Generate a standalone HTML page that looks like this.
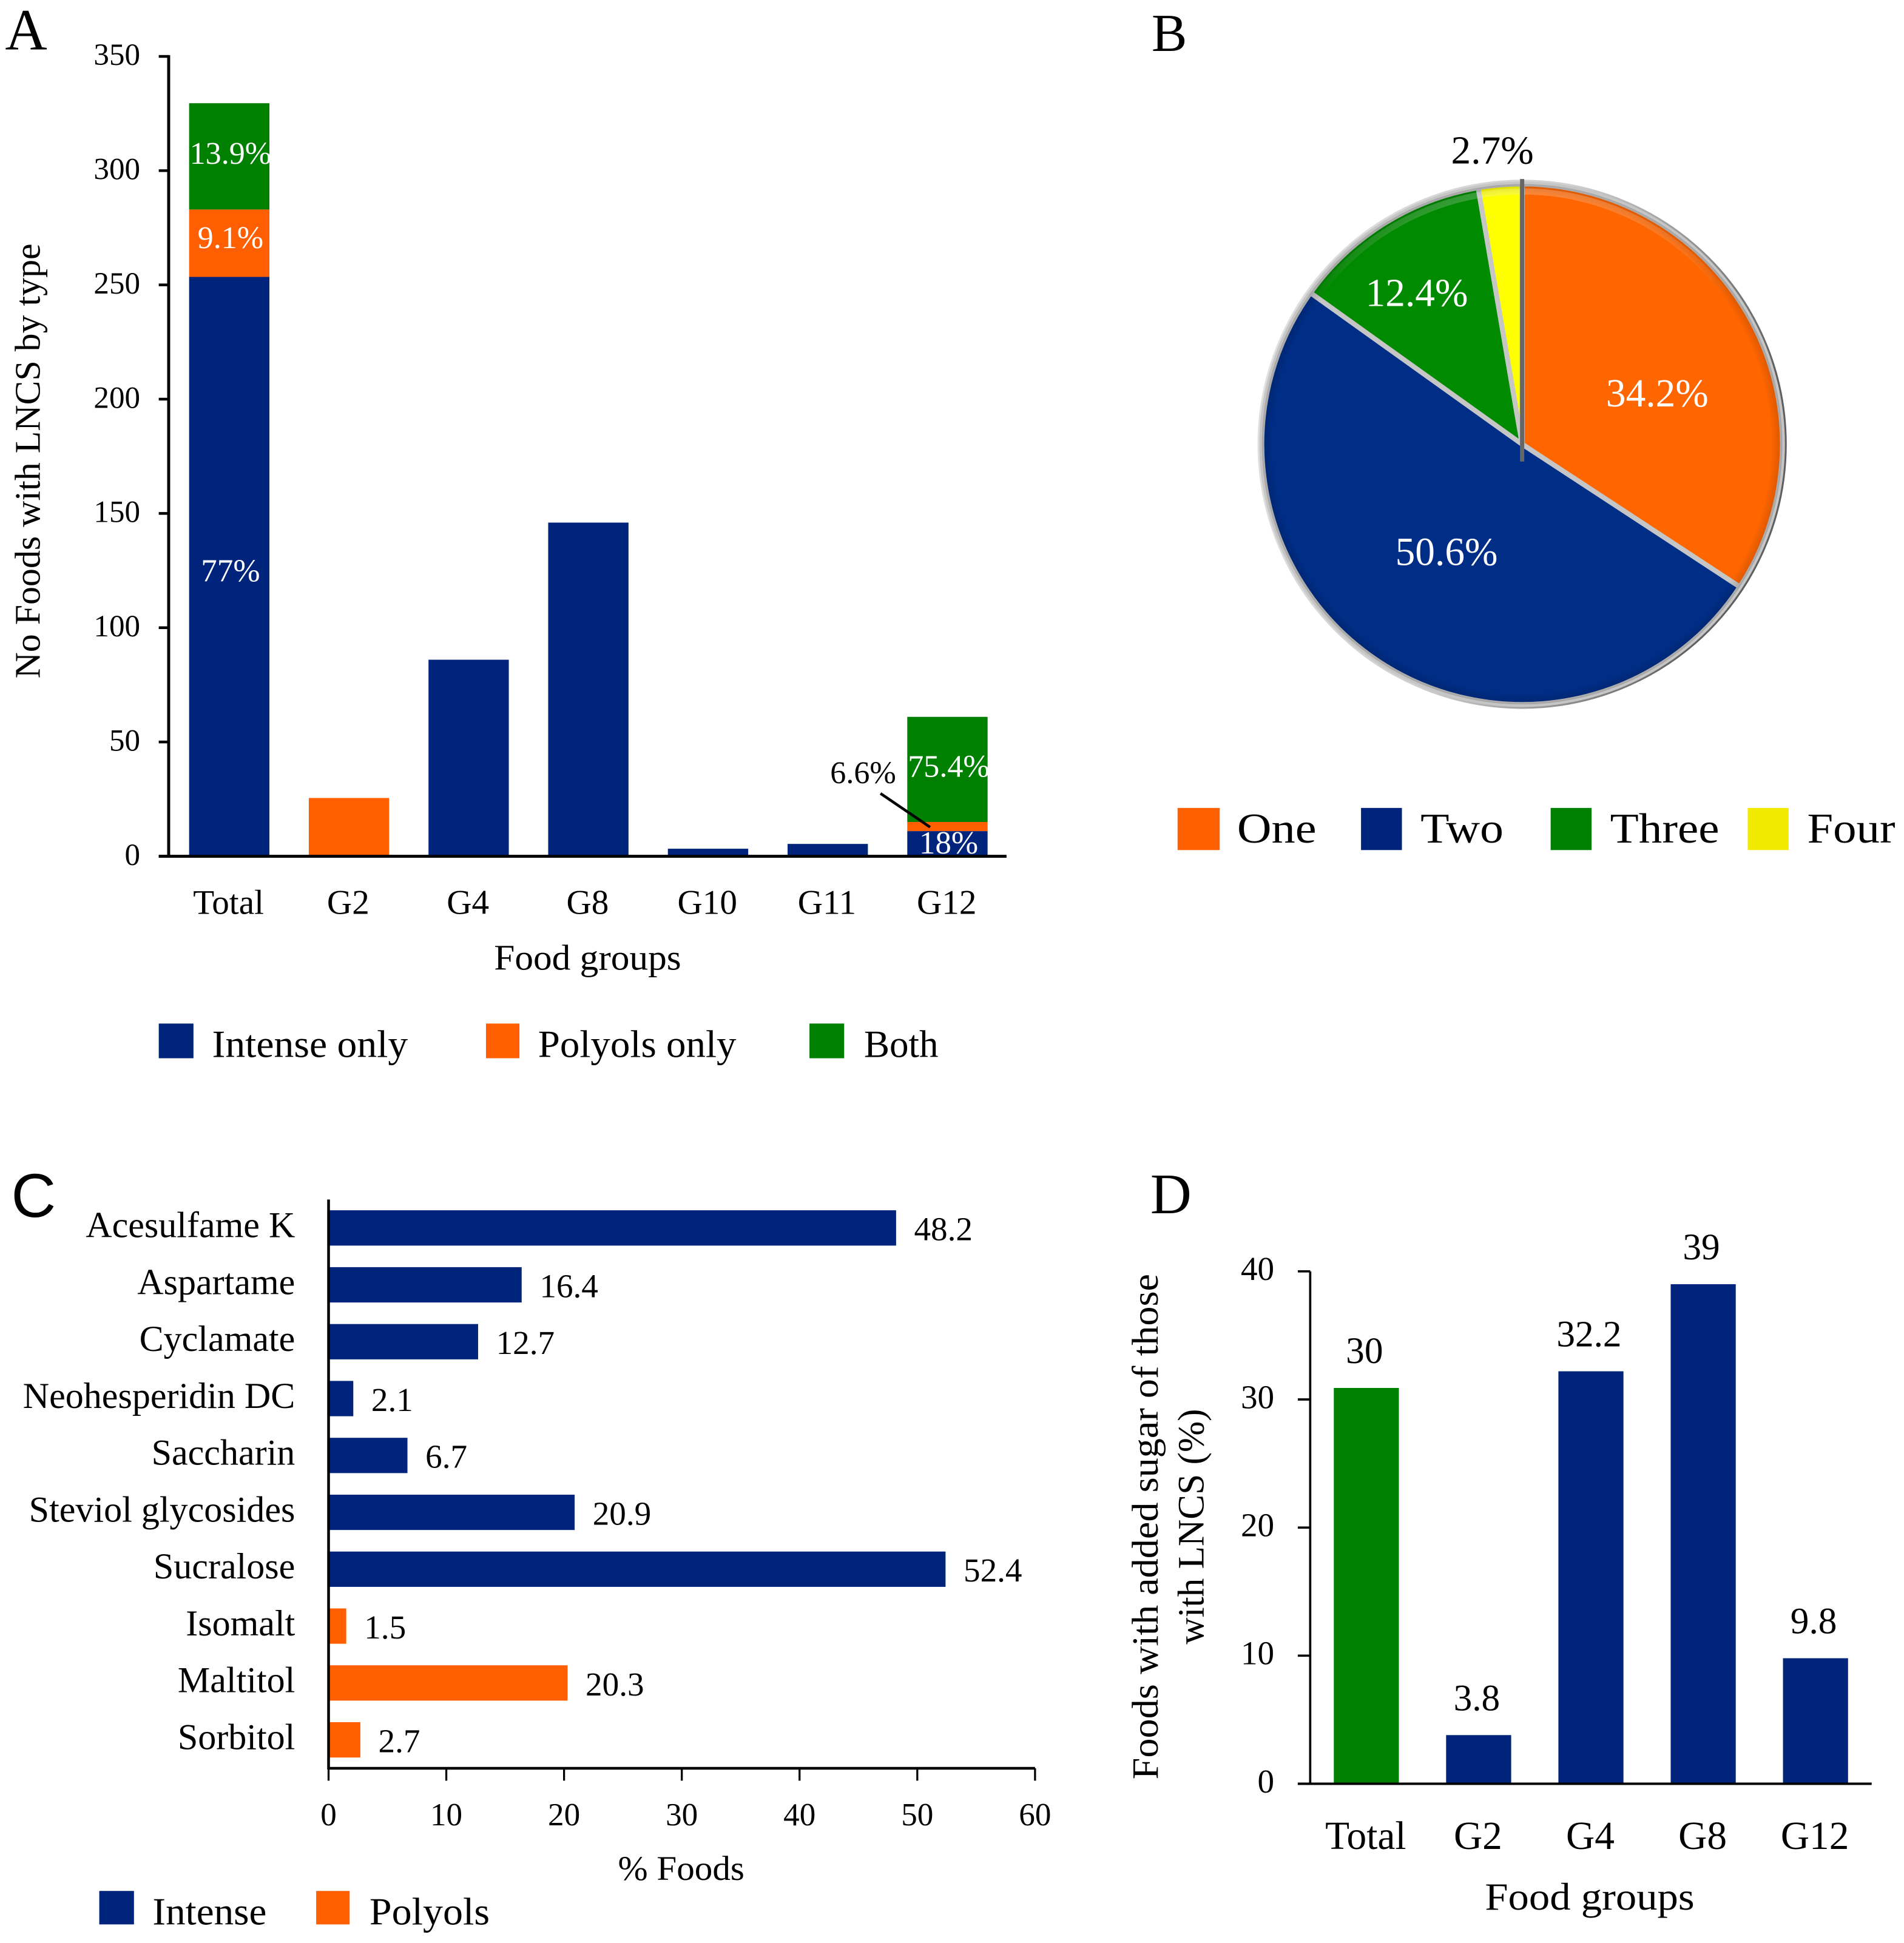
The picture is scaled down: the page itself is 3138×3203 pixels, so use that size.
<!DOCTYPE html>
<html lang="en">
<head>
<meta charset="utf-8">
<title>Low- and no-calorie sweeteners in foods</title>
<style>
html,body{margin:0;padding:0;background:#fff}
svg{display:block;font-family:"Liberation Serif",serif}
</style>
</head>
<body>
<svg id="figure" xmlns="http://www.w3.org/2000/svg" width="3138" height="3203" viewBox="0 0 1536 1568">
  <defs>
    <linearGradient id="rimGrad" x1="0" y1="0" x2="1" y2="0.3">
      <stop offset="0" stop-color="#e4e4e4"/>
      <stop offset="0.55" stop-color="#cfcfcf"/>
      <stop offset="1" stop-color="#5f5f5f"/>
    </linearGradient>
    <radialGradient id="bevelGrad" cx="0.5" cy="0.5" r="0.5">
      <stop offset="0.955" stop-color="#000" stop-opacity="0"/>
      <stop offset="1" stop-color="#000" stop-opacity="0.16"/>
    </radialGradient>
    <linearGradient id="highlightGrad" x1="0" y1="0" x2="0" y2="1">
      <stop offset="0" stop-color="#fff" stop-opacity="0.22"/>
      <stop offset="0.22" stop-color="#fff" stop-opacity="0"/>
    </linearGradient>
  </defs>

  <rect x="0" y="0" width="1536" height="1568" fill="#fff"/>

  <text x="4" y="40" font-size="47">A</text>
  <text x="929" y="41" font-size="43">B</text>
  <text x="9" y="982" font-size="50" font-family="Liberation Sans, sans-serif">C</text>
  <text x="928" y="979" font-size="46">D</text>

  <g id="panelA">
    <text transform="translate(32,372) rotate(-90)" text-anchor="middle" font-size="29" textLength="351" lengthAdjust="spacingAndGlyphs">No Foods with LNCS by type</text>
    <text x="474" y="782.5" text-anchor="middle" font-size="29" textLength="151" lengthAdjust="spacingAndGlyphs">Food groups</text>
    <g>
      <rect x="128" y="826" width="28" height="28" fill="#00247c"/>
      <text x="171" y="853" font-size="31" textLength="158" lengthAdjust="spacingAndGlyphs">Intense only</text>
      <rect x="392" y="826" width="27" height="28" fill="#ff5f00"/>
      <text x="434" y="853" font-size="31" textLength="160" lengthAdjust="spacingAndGlyphs">Polyols only</text>
      <rect x="653" y="826" width="28" height="28" fill="#008000"/>
      <text x="697" y="853" font-size="31" textLength="60" lengthAdjust="spacingAndGlyphs">Both</text>
    </g>
  </g>

  <g id="panelB">
    <g>
      <rect x="950" y="652" width="34" height="34" fill="#ff6000"/>
      <text x="998" y="680" font-size="34" textLength="64" lengthAdjust="spacingAndGlyphs">One</text>
      <rect x="1098" y="652" width="33" height="34" fill="#00247c"/>
      <text x="1146" y="680" font-size="34" textLength="67" lengthAdjust="spacingAndGlyphs">Two</text>
      <rect x="1251" y="652" width="33" height="34" fill="#008000"/>
      <text x="1299" y="680" font-size="34" textLength="88" lengthAdjust="spacingAndGlyphs">Three</text>
      <rect x="1410" y="652" width="33" height="34" fill="#f2e900"/>
      <text x="1458" y="680" font-size="34" textLength="71" lengthAdjust="spacingAndGlyphs">Four</text>
    </g>
  </g>

  <g id="panelC">
    <text x="549.5" y="1517" text-anchor="middle" font-size="28" textLength="102" lengthAdjust="spacingAndGlyphs">% Foods</text>
    <g>
      <rect x="80" y="1526" width="28" height="27" fill="#00247c"/>
      <text x="123" y="1553" font-size="31" textLength="92" lengthAdjust="spacingAndGlyphs">Intense</text>
      <rect x="255" y="1526" width="27" height="27" fill="#ff5f00"/>
      <text x="298" y="1553" font-size="31" textLength="97" lengthAdjust="spacingAndGlyphs">Polyols</text>
    </g>
  </g>

  <g id="panelD">
    <text transform="translate(934,1232) rotate(-90)" text-anchor="middle" font-size="30" textLength="408" lengthAdjust="spacingAndGlyphs">Foods with added sugar of those</text>
    <text transform="translate(971,1232) rotate(-90)" text-anchor="middle" font-size="30" textLength="190" lengthAdjust="spacingAndGlyphs">with LNCS (%)</text>
    <text x="1282.5" y="1541" text-anchor="middle" font-size="31" textLength="169" lengthAdjust="spacingAndGlyphs">Food groups</text>
  </g>
</svg>

<script>
/* Panel A data */
const categoriesA = ['Total', 'G2', 'G4', 'G8', 'G10', 'G11', 'G12'];
const intenseOnlyCounts = [253.5, 0, 86, 146, 3.3, 5.4, 11];
const polyolsOnlyCounts = [29.5, 25.5, 0, 0, 0, 0, 4];
const bothCounts = [46.5, 0, 0, 0, 0, 0, 46];
const intenseOnlyLabels = ['77%', '', '', '', '', '', '18%'];
const polyolsOnlyLabels = ['9.1%', '', '', '', '', '', '6.6%'];
const bothLabels = ['13.9%', '', '', '', '', '', '75.4%'];
const ticksA = [0, 50, 100, 150, 200, 250, 300, 350];

/* Panel B data */
const pieCategories = ['One', 'Two', 'Three', 'Four'];
const pieValues = [34.2, 50.6, 12.4, 2.7];
const pieLabels = ['34.2%', '50.6%', '12.4%', '2.7%'];

/* Panel C data */
const sweeteners = ['Acesulfame K', 'Aspartame', 'Cyclamate', 'Neohesperidin DC', 'Saccharin', 'Steviol glycosides', 'Sucralose', 'Isomalt', 'Maltitol', 'Sorbitol'];
const sweetenerPercents = [48.2, 16.4, 12.7, 2.1, 6.7, 20.9, 52.4, 1.5, 20.3, 2.7];
const sweetenerTypes = ['intense', 'intense', 'intense', 'intense', 'intense', 'intense', 'intense', 'polyol', 'polyol', 'polyol'];
const ticksC = [0, 10, 20, 30, 40, 50, 60];

/* Panel D data */
const categoriesD = ['Total', 'G2', 'G4', 'G8', 'G12'];
const addedSugarPercents = [30.9, 3.8, 32.2, 39, 9.8];
const addedSugarLabels = ['30', '3.8', '32.2', '39', '9.8'];
const ticksD = [0, 10, 20, 30, 40];

const NS = 'http://www.w3.org/2000/svg';
const BLUE = '#00247c', ORANGE = '#ff5f00', GREEN = '#008000';

function mark(parent, tag, name, attrs) {
  const el = document.createElementNS(NS, tag);
  
  
  for (const k in attrs) el.setAttribute(k, attrs[k]);
  parent.appendChild(el);
  return el;
}
function label(parent, name, str, attrs) {
  const el = mark(parent, 'text', name, attrs);
  el.textContent = str;
  return el;
}
function line(parent, name, x1, y1, x2, y2, w) {
  return mark(parent, 'line', name, {x1: x1, y1: y1, x2: x2, y2: y2, stroke: '#000', 'stroke-width': w});
}
function rectBetween(parent, name, x, y0, w, y1, fill) {
  return mark(parent, 'rect', name, {x: x, y: Math.min(y0, y1), width: w, height: Math.abs(y1 - y0), fill: fill});
}

/* ---------- Panel A ---------- */
(function () {
  const g = document.getElementById('panelA');
  const left = 136, right = 812, zero = 691, top = 45.5, maxV = 350;
  const band = (right - left) / categoriesA.length;
  const barW = 64.8;
  const xA = i => left + 0.6 + band * (i + 0.5);
  const yA = v => zero - (zero - top) * v / maxV;

  categoriesA.forEach((c, i) => {
    const x = xA(i) - barW / 2;
    const a = intenseOnlyCounts[i], b = polyolsOnlyCounts[i], d = bothCounts[i];
    if (a > 0) rectBetween(g, 'bar-intense-' + c, x, yA(0), barW, yA(a), BLUE);
    if (b > 0) rectBetween(g, 'bar-polyols-' + c, x, yA(a), barW, yA(a + b), ORANGE);
    if (d > 0) rectBetween(g, 'bar-both-' + c, x, yA(a + b), barW, yA(a + b + d), GREEN);
    const cx = xA(i);
    if (intenseOnlyLabels[i]) label(g, 'label-intense-' + c, intenseOnlyLabels[i], {x: cx + 1, y: yA(a / 2) + 8 + (i === 0 ? 4 : 0), 'text-anchor': 'middle', 'font-size': 26, fill: '#fff'});
    if (polyolsOnlyLabels[i] && i === 0) label(g, 'label-polyols-' + c, polyolsOnlyLabels[i], {x: cx + 1, y: yA(a + b / 2) + 4, 'text-anchor': 'middle', 'font-size': 25.5, fill: '#fff'});
    if (polyolsOnlyLabels[i] && i !== 0) {
      label(g, 'label-polyols-callout-' + c, polyolsOnlyLabels[i], {x: cx - 68, y: yA(a + b + d / 2) + 11, 'text-anchor': 'middle', 'font-size': 25.5, fill: '#000'});
      line(g, 'callout-leader-' + c, cx - 54, yA(a + b) - 23, cx - 14, yA(a + b / 2) + 0.5, 2.2);
    }
    if (bothLabels[i]) label(g, 'label-both-' + c, bothLabels[i], {x: cx + 1, y: yA(a + b + d / 2) + 6, 'text-anchor': 'middle', 'font-size': 25.5, fill: '#fff'});
    label(g, 'x-tick-label-' + c, c, {x: cx - 0.6, y: 737.5, 'text-anchor': 'middle', 'font-size': 28});
  });
  ticksA.forEach(t => {
    line(g, 'y-tick-' + t, 128, yA(t), left, yA(t), 2.2);
    label(g, 'y-tick-label-' + t, String(t), {x: 113, y: yA(t) + 7, 'text-anchor': 'end', 'font-size': 25});
  });
  line(g, 'panel-a-y-axis', left, top - 1, left, zero + 1, 2.4);
  line(g, 'panel-a-x-axis', 128, zero, right, zero, 2.4);
})();

/* ---------- Panel B ---------- */
(function () {
  const g = document.getElementById('panelB');
  const cx = 1228, cy = 358.5, r = 210;
  const colors = ['#ff6600', '#002d86', '#008a00', '#ffff00'];
  const total = pieValues.reduce((s, v) => s + v, 0);
  const angle = v => 2 * Math.PI * v / total;
  const px = a => cx + r * Math.sin(a);
  const py = a => cy - r * Math.cos(a);

  mark(g, 'circle', 'pie-rim', {cx: cx, cy: cy, r: r + 1.5, fill: 'none', stroke: 'url(#rimGrad)', 'stroke-width': 4});
  let acc = 0;
  pieValues.forEach((v, i) => {
    const a0 = angle(acc), a1 = angle(acc + v);
    acc += v;
    const large = a1 - a0 > Math.PI ? 1 : 0;
    mark(g, 'path', 'pie-slice-' + pieCategories[i], {
      d: 'M' + cx + ' ' + cy + ' L' + px(a0) + ' ' + py(a0) + ' A' + r + ' ' + r + ' 0 ' + large + ' 1 ' + px(a1) + ' ' + py(a1) + ' Z',
      fill: colors[i], stroke: '#c6c6c6', 'stroke-width': 4, 'stroke-linejoin': 'round'
    });
  });
  mark(g, 'circle', 'pie-bevel', {cx: cx, cy: cy, r: r, fill: 'url(#bevelGrad)'});
  mark(g, 'circle', 'pie-highlight', {cx: cx, cy: cy, r: r - 6, fill: 'none', stroke: 'url(#highlightGrad)', 'stroke-width': 5});
  mark(g, 'line', 'pie-start-divider', {x1: cx, y1: cy + 14, x2: cx, y2: cy - r - 4, stroke: '#666', 'stroke-width': 3.4});

  const labelPos = [[1337, 328], [1167, 456], [1143, 247], [1204, 132]];
  const labelFill = ['#fff', '#fff', '#fff', '#000'];
  pieLabels.forEach((t, i) => {
    label(g, 'pie-label-' + pieCategories[i], t, {x: labelPos[i][0], y: labelPos[i][1], 'text-anchor': 'middle', 'font-size': 32, fill: labelFill[i]});
  });
})();

/* ---------- Panel C ---------- */
(function () {
  const g = document.getElementById('panelC');
  const left = 265, right = 835, top = 968, bottom = 1427, maxV = 60;
  const band = (bottom - top) / sweeteners.length;
  const barH = 28.5;
  const xC = v => left + (right - left) * v / maxV;
  const yC = i => top + band * (i + 0.5);

  sweeteners.forEach((s, i) => {
    const fill = sweetenerTypes[i] === 'polyol' ? ORANGE : BLUE;
    mark(g, 'rect', 'bar-' + s.replace(/ /g, '-'), {x: left, y: yC(i) - barH / 2, width: xC(sweetenerPercents[i]) - left, height: barH, fill: fill});
    label(g, 'value-label-' + s.replace(/ /g, '-'), String(sweetenerPercents[i]), {x: xC(sweetenerPercents[i]) + 14.5, y: yC(i) + 10, 'font-size': 27});
    label(g, 'category-label-' + s.replace(/ /g, '-'), s, {x: 238, y: yC(i) + 7.5, 'text-anchor': 'end', 'font-size': 29.4});
  });
  ticksC.forEach(t => {
    line(g, 'x-tick-' + t, xC(t), bottom, xC(t), bottom + 10, 1.6);
    label(g, 'x-tick-label-' + t, String(t), {x: xC(t), y: 1473, 'text-anchor': 'middle', 'font-size': 26});
  });
  line(g, 'panel-c-y-axis', left, top, left, bottom + 1, 2.2);
  line(g, 'panel-c-x-axis', left, bottom, right, bottom, 2.2);
})();

/* ---------- Panel D ---------- */
(function () {
  const g = document.getElementById('panelD');
  const left = 1057, right = 1510, zero = 1439.5, top = 1026, maxV = 40;
  const band = (right - left) / categoriesD.length;
  const barW = 52.5;
  const xD = i => left + band * (i + 0.5);
  const yD = v => zero - (zero - top) * v / maxV;

  categoriesD.forEach((c, i) => {
    const fill = i === 0 ? GREEN : BLUE;
    rectBetween(g, 'bar-' + c, xD(i) - barW / 2, yD(0), barW, yD(addedSugarPercents[i]), fill);
    label(g, 'value-label-' + c, addedSugarLabels[i], {x: xD(i) - 1.5, y: yD(addedSugarPercents[i]) - 20, 'text-anchor': 'middle', 'font-size': 30});
    label(g, 'x-tick-label-' + c, c, {x: xD(i) - 0.5, y: 1492, 'text-anchor': 'middle', 'font-size': 32});
  });
  ticksD.forEach(t => {
    line(g, 'y-tick-' + t, 1047, yD(t), left, yD(t), 1.8);
    label(g, 'y-tick-label-' + t, String(t), {x: 1028, y: yD(t) + 7, 'text-anchor': 'end', 'font-size': 27});
  });
  line(g, 'panel-d-y-axis', left, top, left, zero + 1, 1.8);
  line(g, 'panel-d-x-axis', 1047, zero, right, zero, 2);
})();
</script>
</body>
</html>
